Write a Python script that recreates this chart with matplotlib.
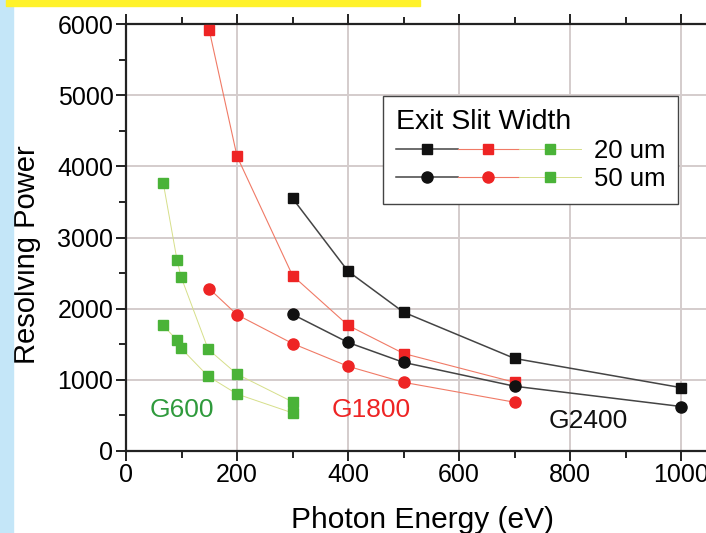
import matplotlib
matplotlib.use("Agg")
import matplotlib.pyplot as plt
from matplotlib.legend_handler import HandlerTuple
from matplotlib.patches import Rectangle
from matplotlib.ticker import MultipleLocator

plt.rcParams['font.family'] = ['Liberation Sans', 'DejaVu Sans']

# G2400 grating
g2400_energy = [300, 400, 500, 700, 1000]
g2400_20um = [3550, 2525, 1950, 1300, 890]
g2400_50um = [1920, 1525, 1245, 910, 625]

# G1800 grating
g1800_energy = [150, 200, 300, 400, 500, 700]
g1800_20um = [5910, 4140, 2465, 1765, 1370, 965]
g1800_50um = [2280, 1915, 1510, 1190, 965, 685]

# G600 grating
g600_energy = [67, 92, 99, 148, 200, 300]
g600_20um = [3770, 2680, 2450, 1430, 1080, 690]
g600_50um = [1765, 1555, 1445, 1050, 800, 535]

series_labels = ['20 um', '50 um']
legend_title = 'Exit Slit Width'
grating_labels = ['G600', 'G1800', 'G2400']

BLACK = '#111111'
RED = '#ee2424'
GREEN = '#4ab338'
GREEN_LINE = '#d6df8a'
RED_LINE = '#f07a66'
GREEN_TEXT = '#2f9a3c'

fig = plt.figure(figsize=(7.06, 5.33), dpi=100)
# decorations
fig.patches.append(Rectangle((0, 0), 13/706, 1, transform=fig.transFigure,
                             color='#c4e6f8', zorder=0))
fig.patches.append(Rectangle((6/706, 1-6/533), (420-6)/706, 6/533,
                             transform=fig.transFigure, color='#fff22a', zorder=1))

ax = fig.add_axes([126/706, 1-451/533, (709-126)/706, (451-24)/533])

k20, = ax.plot(g2400_energy, g2400_20um, '-s', color='#444444', mfc=BLACK, mec=BLACK,
               ms=7.5, lw=1.1, zorder=5)
k50, = ax.plot(g2400_energy, g2400_50um, '-o', color='#444444', mfc=BLACK, mec=BLACK,
               ms=8, lw=1.1, zorder=5)
r20, = ax.plot(g1800_energy, g1800_20um, '-s', color=RED_LINE, mfc=RED, mec=RED,
               ms=6.5, lw=0.8, zorder=4)
r50, = ax.plot(g1800_energy, g1800_50um, '-o', color=RED_LINE, mfc=RED, mec=RED,
               ms=8, lw=0.8, zorder=4)
g20, = ax.plot(g600_energy, g600_20um, '-s', color=GREEN_LINE, mfc=GREEN, mec=GREEN,
               ms=6.5, lw=0.7, zorder=3)
g50, = ax.plot(g600_energy, g600_50um, '-s', color=GREEN_LINE, mfc=GREEN, mec=GREEN,
               ms=6.5, lw=0.7, zorder=3)

ax.set_xlim(0, 1050)
ax.set_ylim(0, 6000)
ax.xaxis.set_major_locator(MultipleLocator(200))
ax.xaxis.set_minor_locator(MultipleLocator(100))
ax.yaxis.set_major_locator(MultipleLocator(1000))
ax.yaxis.set_minor_locator(MultipleLocator(500))
ax.grid(True, which='major', color='#d4cccc', lw=1.4)
ax.set_axisbelow(True)
for s in ax.spines.values():
    s.set_linewidth(1.6)
    s.set_color('#222222')
ax.tick_params(which='both', direction='out', top=True, right=True,
               labelsize=18, width=1.4, color='#222222', pad=2)
ax.tick_params(which='major', length=7)
ax.tick_params(which='minor', length=5)

ax.set_xlabel('Photon Energy (eV)', fontsize=21.5)
ax.xaxis.set_label_coords(0.509, -0.128)
ax.set_ylabel('Resolving Power', fontsize=21)
ax.yaxis.set_label_coords(-0.146, 0.459)

ax.text(101, 577, grating_labels[0], color=GREEN_TEXT, fontsize=19, ha='center', va='center')
ax.text(441, 577, grating_labels[1], color=RED, fontsize=19, ha='center', va='center')
ax.text(832, 422, grating_labels[2], color=BLACK, fontsize=19, ha='center', va='center')

leg = ax.legend([(k20, r20, g20), (k50, r50, g50)], series_labels,
                handler_map={tuple: HandlerTuple(ndivide=None, pad=0)},
                title=legend_title, alignment='left',
                loc='upper left', bbox_to_anchor=(0.441, 0.831), borderaxespad=0,
                fontsize=18.5, title_fontsize=20.5, handlelength=7.2,
                handletextpad=0.5, borderpad=0.5, labelspacing=0.15,
                fancybox=False, framealpha=1, edgecolor='#444444')
leg.get_frame().set_linewidth(1.0)

fig.savefig('out.png', dpi=100)
